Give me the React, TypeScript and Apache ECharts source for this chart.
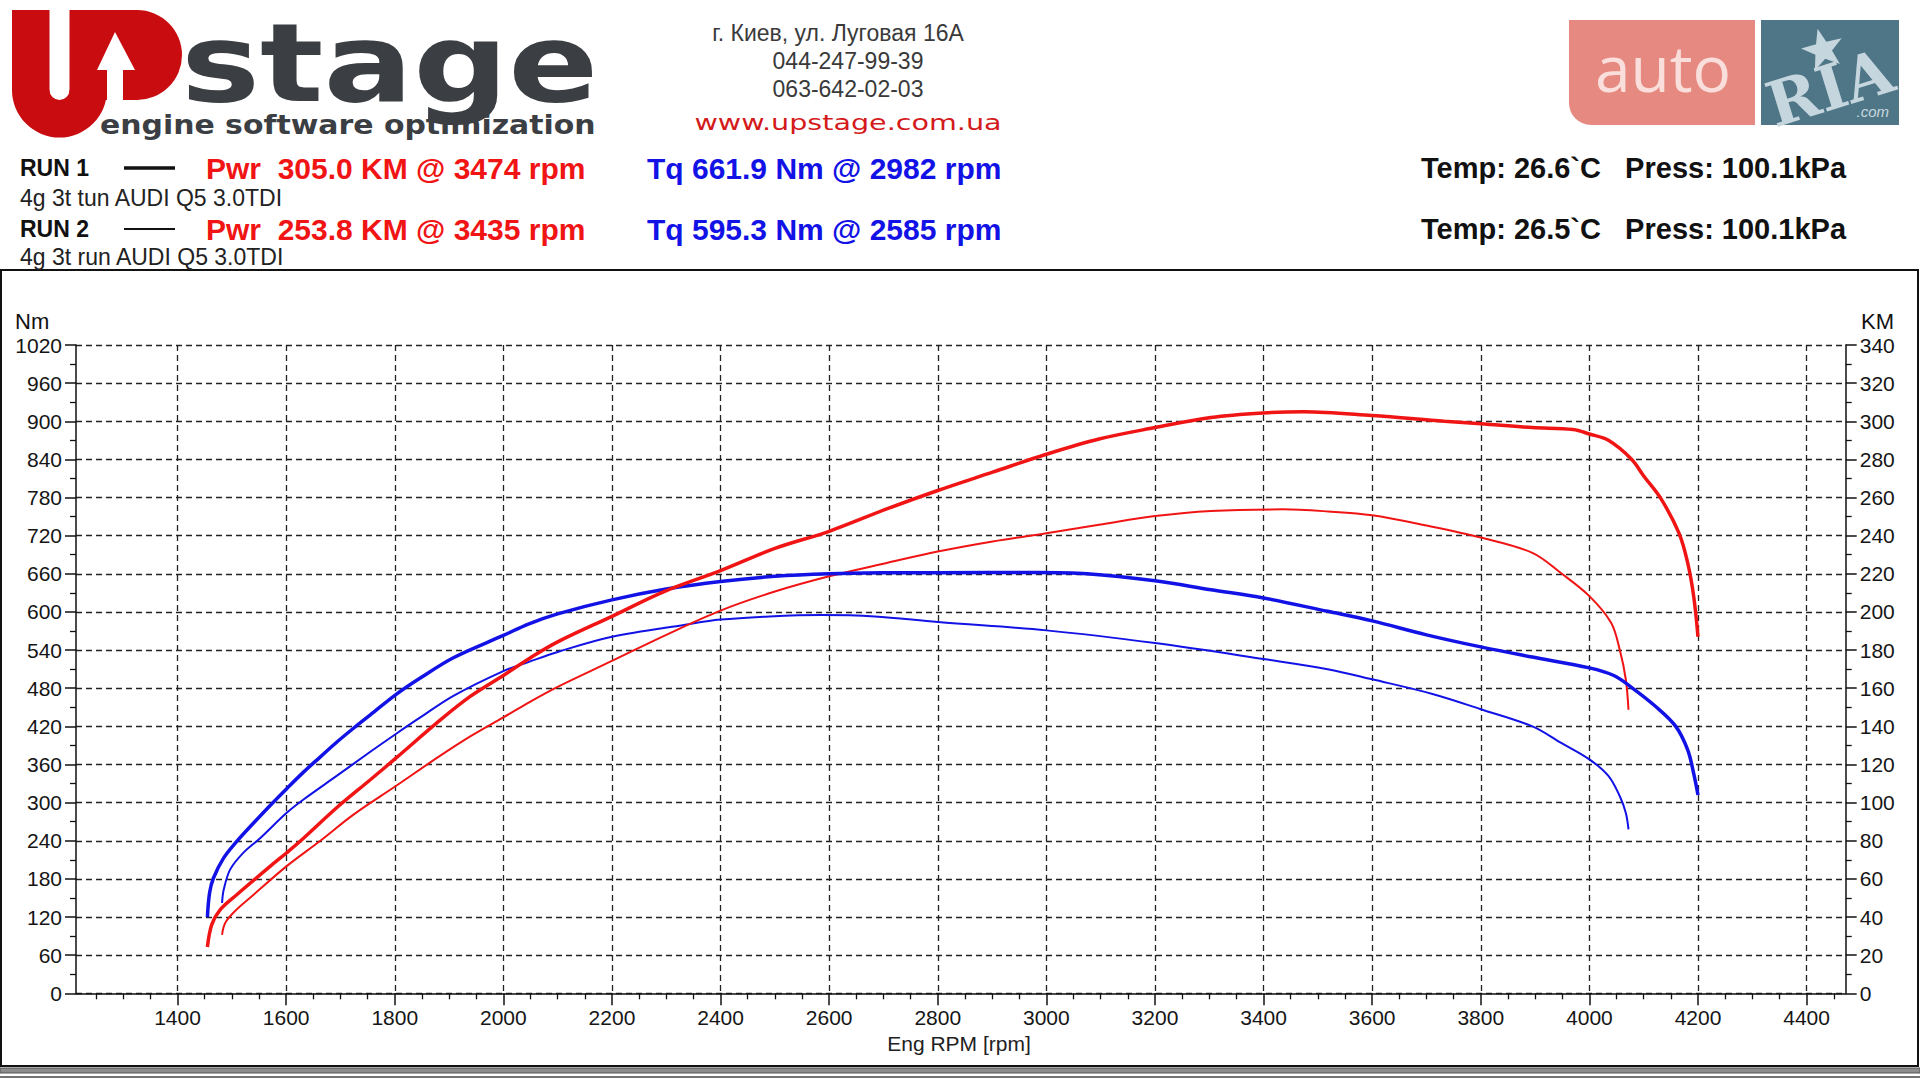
import React, { useEffect, useRef } from "react";
import * as echarts from "echarts";

// ---------- axis ticks ----------
const rpmTicks = [1400, 1600, 1800, 2000, 2200, 2400, 2600, 2800, 3000, 3200, 3400, 3600, 3800, 4000, 4200, 4400];
const rpmMin = 1213;
const rpmMax = 4472;
const rpmMinorStep = 50;
const nmMax = 1020;
const nmStep = 60;
const kmMax = 340;
const kmStep = 20;

// ---------- RUN 1 (thick) ----------
const run1TorqueRpm = [1455, 1459, 1466, 1485, 1509, 1540, 1571, 1601, 1632, 1663, 1693, 1724, 1755, 1802, 1847, 1908, 2000, 2046, 2100, 2200, 2300, 2400, 2500, 2600, 2700, 2800, 2982, 3075, 3200, 3303, 3400, 3518, 3600, 3700, 3800, 3895, 4000, 4045, 4078, 4121, 4159, 4181, 4192, 4200];
const run1TorqueNm = [120, 158, 181, 213, 239, 268, 296, 322, 348, 372, 395, 417, 438, 470, 496, 528, 563, 581, 597, 619, 636, 648, 656, 660, 661.5, 661.8, 661.9, 660, 649, 635, 622, 601, 586, 564, 545, 529, 512, 500, 481, 452, 420, 383, 346, 312];
const run1PowerRpm = [1455, 1463, 1479, 1509, 1571, 1601, 1632, 1693, 1755, 1802, 1877, 1939, 2000, 2050, 2100, 2200, 2296, 2400, 2500, 2600, 2706, 2800, 2901, 3000, 3097, 3200, 3303, 3400, 3474, 3600, 3733, 3800, 3895, 3970, 4000, 4035, 4078, 4100, 4132, 4165, 4181, 4192, 4200];
const run1PowerKm = [24.3, 36.0, 44.0, 51.7, 66.7, 73.7, 81.3, 97.3, 112.0, 123.3, 141.7, 155.7, 166.7, 176.0, 184.3, 197.7, 210.7, 221.7, 233.3, 242.3, 254.0, 263.7, 273.3, 282.7, 290.7, 296.7, 302.0, 304.4, 305.0, 303.0, 300.0, 298.7, 296.7, 295.7, 293.3, 290.0, 280.0, 271.3, 259.3, 241.3, 225.7, 208.3, 187.0];

// ---------- RUN 2 (thin) ----------
const run2TorqueRpm = [1482, 1485, 1497, 1521, 1552, 1601, 1632, 1693, 1755, 1802, 1847, 1908, 2000, 2046, 2100, 2200, 2335, 2400, 2490, 2585, 2684, 2800, 3000, 3200, 3400, 3518, 3600, 3711, 3800, 3895, 3948, 4000, 4035, 4056, 4067, 4072];
const run2TorqueNm = [142, 163, 195, 221, 244, 284, 305, 342, 380, 408, 434, 468, 507, 521, 537, 561, 580, 588, 593, 595.3, 593, 584, 571, 551, 526, 510, 494, 471, 447, 420, 394, 368, 342, 310, 284, 258];
const run2PowerRpm = [1482, 1488, 1509, 1540, 1601, 1663, 1724, 1802, 1877, 1939, 2000, 2050, 2100, 2200, 2300, 2400, 2500, 2600, 2706, 2800, 2901, 3000, 3097, 3200, 3303, 3435, 3519, 3600, 3700, 3800, 3895, 3948, 4000, 4040, 4056, 4067, 4072];
const run2PowerKm = [30.7, 37.0, 44.0, 51.7, 66.7, 80.0, 93.7, 108.7, 123.3, 134.7, 144.7, 153.0, 160.7, 174.3, 188.0, 200.7, 210.7, 218.7, 225.7, 231.7, 237.0, 241.3, 245.7, 250.3, 253.0, 253.8, 252.7, 250.7, 245.3, 239.0, 231.0, 220.3, 208.3, 194.3, 180.0, 164.7, 148.7];

// ---------- header texts ----------
const addressLines = ["г. Киев, ул. Луговая 16A", "044-247-99-39", "063-642-02-03"];
const siteUrl = "www.upstage.com.ua";
const runNames = ["RUN 1", "RUN 2"];
const runDescriptions = ["4g 3t tun AUDI Q5 3.0TDI", "4g 3t run AUDI Q5 3.0TDI"];
const runPowerTexts = ["Pwr  305.0 KM @ 3474 rpm", "Pwr  253.8 KM @ 3435 rpm"];
const runTorqueTexts = ["Tq 661.9 Nm @ 2982 rpm", "Tq 595.3 Nm @ 2585 rpm"];
const runAmbientTexts = ["Temp: 26.6`C   Press: 100.1kPa", "Temp: 26.5`C   Press: 100.1kPa"];

const RED = "#f01414";
const BLUE = "#1212e6";
const LOGO_RED = "#c80c10";
const LOGO_GRAY = "#3b3e43";
const FONT = "'Liberation Sans', Arial, sans-serif";
const NARROW = "'Liberation Sans Narrow', 'Liberation Sans', Arial, sans-serif";

function zip(xs: number[], ys: number[]) {
  return xs.map((x, i) => [x, ys[i]]);
}

function starPoints(cx: number, cy: number, ro: number, ri: number, rot: number) {
  const pts: number[][] = [];
  for (let i = 0; i < 10; i++) {
    const r = i % 2 === 0 ? ro : ri;
    const a = -Math.PI / 2 + (i * Math.PI) / 5 + rot;
    pts.push([cx + r * Math.cos(a), cy + r * Math.sin(a)]);
  }
  return pts;
}

function buildOption() {
  const rpmMinor: number[] = [];
  for (let v = 1250; v <= 4450; v += rpmMinorStep) {
    if (v % 200 !== 0) rpmMinor.push(v);
  }
  const axisColor = "#111";
  const labelStyle = { fontSize: 21, color: "#151515", fontFamily: FONT, formatter: (v: number) => String(v) };
  const dashed = { type: [6, 4] as any, color: "#222", width: 1.3 };

  const headerRows = [168, 229];
  const descRows = [198, 257];

  const graphic: any[] = [
    // chart frame
    { type: "rect", shape: { x: 1, y: 270, width: 1917, height: 796 }, style: { fill: "none", stroke: "#111", lineWidth: 2 }, z: 100 },
    { type: "rect", shape: { x: 0, y: 1068, width: 1920, height: 5 }, style: { fill: "#8c8c8c", stroke: "#555", lineWidth: 1 }, z: 100 },
    { type: "line", shape: { x1: 0, y1: 1077, x2: 1920, y2: 1077 }, style: { stroke: "#444", lineWidth: 1.5 }, z: 100 },

    // UPstage logo
    { type: "rect", shape: { x: 12, y: 10, width: 37.5, height: 81 }, style: { fill: LOGO_RED }, z: 100 },
    { type: "sector", shape: { cx: 59.5, cy: 90, r: 47.5, r0: 10, startAngle: 0, endAngle: Math.PI }, style: { fill: LOGO_RED }, z: 100 },
    { type: "rect", shape: { x: 69.5, y: 10, width: 68, height: 90 }, style: { fill: LOGO_RED }, z: 100 },
    { type: "sector", shape: { cx: 137, cy: 55, r: 45, r0: 0, startAngle: -Math.PI / 2, endAngle: Math.PI / 2 }, style: { fill: LOGO_RED }, z: 100 },
    { type: "polygon", shape: { points: [[115, 32], [97, 70], [107, 70], [107, 101], [123, 101], [123, 70], [135, 70]] }, style: { fill: "#fff" }, z: 101 },
    { type: "text", x: 181, y: 64, scaleX: 1.23, style: { text: "stage", fontSize: 108, fontWeight: "bold", fontFamily: "'DejaVu Sans', sans-serif", fill: LOGO_GRAY, align: "left", verticalAlign: "middle" }, z: 100 },
    { type: "text", x: 100, y: 125, scaleX: 1.15, style: { text: "engine software optimization", fontSize: 26, fontWeight: "bold", fontFamily: "'DejaVu Sans', sans-serif", fill: LOGO_GRAY, align: "left", verticalAlign: "middle" }, z: 100 },

    // address
    { type: "text", x: 838, y: 33, style: { text: addressLines[0], fontSize: 23, fontFamily: NARROW, fill: "#3a3a3a", align: "center", verticalAlign: "middle" }, z: 100 },
    { type: "text", x: 848, y: 61, style: { text: addressLines[1], fontSize: 23, fontFamily: NARROW, fill: "#3a3a3a", align: "center", verticalAlign: "middle" }, z: 100 },
    { type: "text", x: 848, y: 89, style: { text: addressLines[2], fontSize: 23, fontFamily: NARROW, fill: "#3a3a3a", align: "center", verticalAlign: "middle" }, z: 100 },
    { type: "text", x: 848, y: 122, scaleX: 1.3, style: { text: siteUrl, fontSize: 22, fontFamily: "'DejaVu Sans', sans-serif", fill: "#d41a1a", align: "center", verticalAlign: "middle" }, z: 100 },

    // autoRIA logo
    { type: "rect", shape: { x: 1569, y: 20, width: 186, height: 105, r: [0, 0, 0, 22] }, style: { fill: "#e68a81" }, z: 100 },
    { type: "text", x: 1663, y: 67, style: { text: "auto", fontSize: 64, fontFamily: "'Open Sans', sans-serif", fill: "#f9dedb", align: "center", verticalAlign: "middle" }, z: 100 },
    { type: "rect", shape: { x: 1761, y: 20, width: 138, height: 105 }, style: { fill: "#4e7687" }, z: 100 },
    { type: "polygon", shape: { points: starPoints(1823, 50, 22, 9, -0.25) }, style: { fill: "#c6d6de" }, z: 101 },
    { type: "text", x: 1830, y: 88, rotation: 0.3, style: { text: "RIA", fontSize: 62, fontWeight: "bold", fontFamily: "'DejaVu Serif', serif", fill: "#c6d6de", align: "center", verticalAlign: "middle" }, z: 101 },
    { type: "text", x: 1889, y: 111, style: { text: ".com", fontSize: 15, fontStyle: "italic", fontFamily: FONT, fill: "#c6d6de", align: "right", verticalAlign: "middle" }, z: 101 },

    // axis names
    { type: "text", x: 15, y: 321, style: { text: "Nm", fontSize: 22, fontFamily: FONT, fill: "#111", align: "left", verticalAlign: "middle" }, z: 100 },
    { type: "text", x: 1861, y: 321, style: { text: "KM", fontSize: 22, fontFamily: FONT, fill: "#111", align: "left", verticalAlign: "middle" }, z: 100 },
    { type: "text", x: 959, y: 1043, style: { text: "Eng RPM [rpm]", fontSize: 21, fontFamily: FONT, fill: "#222", align: "center", verticalAlign: "middle" }, z: 100 },
  ];

  for (let i = 0; i < 2; i++) {
    const y = headerRows[i];
    graphic.push(
      { type: "text", x: 20, y, style: { text: runNames[i], fontSize: 23, fontWeight: "bold", fontFamily: FONT, fill: "#111", align: "left", verticalAlign: "middle" }, z: 100 },
      { type: "line", shape: { x1: 124, y1: y, x2: 175, y2: y }, style: { stroke: "#111", lineWidth: i === 0 ? 3.5 : 2 }, z: 100 },
      { type: "text", x: 206, y, style: { text: runPowerTexts[i], fontSize: 30, fontWeight: "bold", fontFamily: FONT, fill: RED, align: "left", verticalAlign: "middle" }, z: 100 },
      { type: "text", x: 647, y, style: { text: runTorqueTexts[i], fontSize: 30, fontWeight: "bold", fontFamily: FONT, fill: BLUE, align: "left", verticalAlign: "middle" }, z: 100 },
      { type: "text", x: 1421, y, style: { text: runAmbientTexts[i], fontSize: 29, fontWeight: "bold", fontFamily: FONT, fill: "#111", align: "left", verticalAlign: "middle" }, z: 100 },
      { type: "text", x: 20, y: descRows[i], style: { text: runDescriptions[i], fontSize: 23, fontFamily: NARROW, fill: "#222", align: "left", verticalAlign: "middle" }, z: 100 }
    );
  }

  const lineSeries = (name: string, data: number[][], color: string, width: number, yAxisIndex: number) => ({
    name,
    type: "line",
    data,
    yAxisIndex,
    xAxisIndex: 0,
    showSymbol: false,
    symbol: "none",
    smooth: 0.35,
    lineStyle: { color, width },
    z: 5,
  });

  return {
    animation: false,
    backgroundColor: "#fff",
    grid: { left: 76, right: 74.3, top: 345, bottom: 86.7, containLabel: false },
    xAxis: [
      {
        type: "value",
        min: rpmMin,
        max: rpmMax,
        position: "bottom",
        axisLine: { show: true, onZero: false, lineStyle: { color: axisColor, width: 1.5 } },
        axisTick: { show: true, customValues: rpmTicks, length: 12, lineStyle: { color: axisColor, width: 1.5 } },
        axisLabel: { show: true, customValues: rpmTicks, margin: 14, ...labelStyle },
        splitLine: { show: true, lineStyle: dashed },
      },
      {
        type: "value",
        min: rpmMin,
        max: rpmMax,
        position: "bottom",
        axisLine: { show: false },
        axisTick: { show: true, customValues: rpmMinor, length: 6, lineStyle: { color: axisColor, width: 1.3 } },
        axisLabel: { show: false },
        splitLine: { show: false },
      },
    ],
    yAxis: [
      {
        type: "value",
        min: 0,
        max: nmMax,
        interval: nmStep,
        position: "left",
        axisLine: { show: true, lineStyle: { color: axisColor, width: 1.5 } },
        axisTick: { show: true, length: 11, lineStyle: { color: axisColor, width: 1.5 } },
        minorTick: { show: true, splitNumber: 2, length: 6, lineStyle: { color: axisColor, width: 1.3 } },
        axisLabel: { margin: 14, ...labelStyle },
        splitLine: { show: true, lineStyle: dashed },
      },
      {
        type: "value",
        min: 0,
        max: kmMax,
        interval: kmStep,
        position: "right",
        axisLine: { show: true, lineStyle: { color: axisColor, width: 1.5 } },
        axisTick: { show: true, length: 11, lineStyle: { color: axisColor, width: 1.5 } },
        minorTick: { show: true, splitNumber: 2, length: 6, lineStyle: { color: axisColor, width: 1.3 } },
        axisLabel: { margin: 14, ...labelStyle },
        splitLine: { show: false },
      },
    ],
    series: [
      lineSeries("RUN 2 Tq", zip(run2TorqueRpm, run2TorqueNm), BLUE, 2, 0),
      lineSeries("RUN 2 Pwr", zip(run2PowerRpm, run2PowerKm), RED, 2, 1),
      lineSeries("RUN 1 Tq", zip(run1TorqueRpm, run1TorqueNm), BLUE, 3.5, 0),
      lineSeries("RUN 1 Pwr", zip(run1PowerRpm, run1PowerKm), RED, 3.5, 1),
    ],
    graphic,
  };
}

export default function App() {
  const ref = useRef<HTMLDivElement>(null);
  useEffect(() => {
    if (!ref.current) return;
    const chart = echarts.init(ref.current, null, { renderer: "svg", width: 1920, height: 1080 });
    chart.setOption(buildOption() as any);
    return () => chart.dispose();
  }, []);
  return (
    <div
      ref={ref}
      style={{ position: "absolute", left: 0, top: 0, width: 1920, height: 1080, background: "#fff" }}
    />
  );
}
